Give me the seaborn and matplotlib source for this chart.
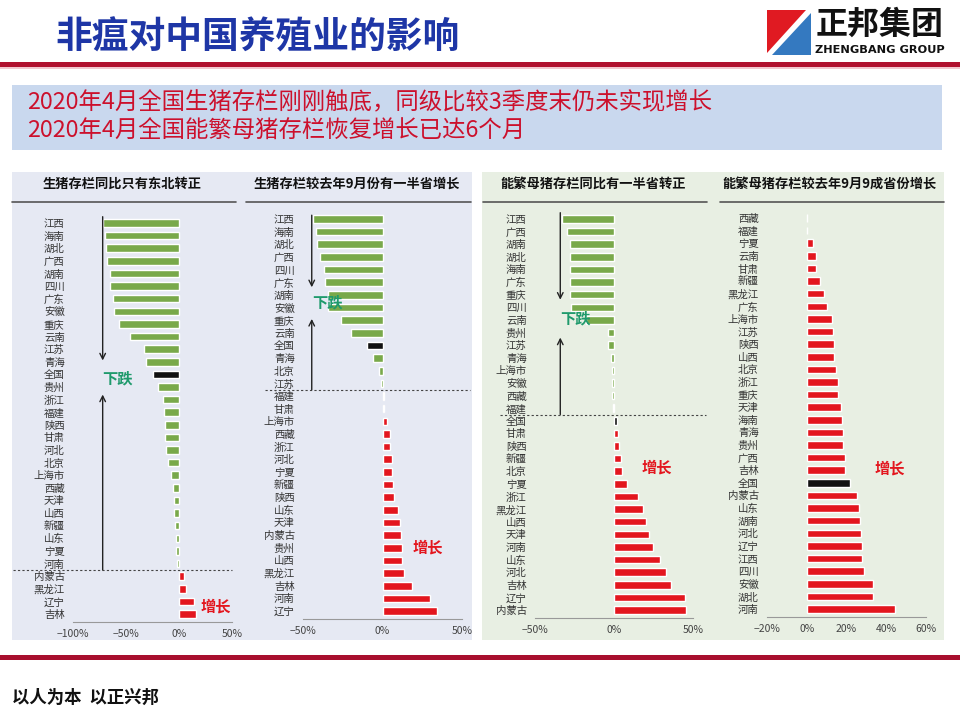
import matplotlib
matplotlib.use("Agg")
import matplotlib.pyplot as plt
import seaborn as sns
from matplotlib.patches import Rectangle, Polygon
from matplotlib.lines import Line2D

sns.set_style("white")
plt.rcParams["font.family"] = ["Noto Sans CJK SC", "DejaVu Sans"]
plt.rcParams["axes.unicode_minus"] = True

# ---- data (% change) ----
p1_title = "生猪存栏同比只有东北转正"
p1_cats = ["江西", "海南", "湖北", "广西", "湖南", "四川", "广东", "安徽", "重庆", "云南",
           "江苏", "青海", "全国", "贵州", "浙江", "福建", "陕西", "甘肃", "河北", "北京",
           "上海市", "西藏", "天津", "山西", "新疆", "山东", "宁夏", "河南", "内蒙古",
           "黑龙江", "辽宁", "吉林"]
p1_vals = [-72, -70, -69, -68, -65, -65, -62, -61, -57, -46,
           -33, -31, -25, -20, -15, -14, -13, -13, -12, -10,
           -8, -6, -5, -5, -4, -3, -3, -1.5, 4.5,
           7, 14, 16]
p1_ticks = [-100, -50, 0, 50]

p2_title = "生猪存栏较去年9月份有一半省增长"
p2_cats = ["江西", "海南", "湖北", "广西", "四川", "广东", "湖南", "安徽", "重庆", "云南",
           "全国", "青海", "北京", "江苏", "福建", "甘肃", "上海市", "西藏", "浙江", "河北",
           "宁夏", "新疆", "陕西", "山东", "天津", "内蒙古", "贵州", "山西", "黑龙江",
           "吉林", "河南", "辽宁"]
p2_vals = [-44, -42, -41, -39, -37, -36, -34, -34, -26, -20,
           -10, -6, -2.5, -1, 1, 1.2, 3, 4.5, 4.6, 6,
           6, 6.3, 7, 9.6, 11, 11.7, 12, 12.4, 13.4,
           18.4, 30, 34]
p2_ticks = [-50, 0, 50]

p3_title = "能繁母猪存栏同比有一半省转正"
p3_cats = ["江西", "广西", "湖南", "湖北", "海南", "广东", "重庆", "四川", "云南", "贵州",
           "江苏", "青海", "上海市", "安徽", "西藏", "福建", "全国", "甘肃", "陕西", "新疆",
           "北京", "宁夏", "浙江", "黑龙江", "山西", "天津", "河南", "山东", "河北",
           "吉林", "辽宁", "内蒙古"]
p3_vals = [-33, -30, -28, -28, -28, -28, -28, -27, -18, -4,
           -3.5, -2, -1.5, -1.3, -1, -0.8, 1.7, 2.3, 3, 4.2,
           5, 8.5, 15, 18.6, 20, 22, 24.5, 29, 33,
           36, 45, 45.5]
p3_ticks = [-50, 0, 50]

p4_title = "能繁母猪存栏较去年9月9成省份增长"
p4_cats = ["西藏", "福建", "宁夏", "云南", "甘肃", "新疆", "黑龙江", "广东", "上海市", "江苏",
           "陕西", "山西", "北京", "浙江", "重庆", "天津", "海南", "青海", "贵州", "广西",
           "吉林", "全国", "内蒙古", "山东", "湖南", "河北", "辽宁", "江西", "四川",
           "安徽", "湖北", "河南"]
p4_vals = [0.2, 0.1, 3.2, 4.7, 4.7, 6.9, 8.9, 10.4, 12.8, 13,
           13.6, 13.8, 14.8, 15.5, 15.8, 17.2, 17.8, 18, 18.2, 19,
           19.2, 21.9, 25.4, 26.3, 26.8, 27.1, 27.6, 27.8, 28.6,
           33.3, 33.5, 44.4]
p4_ticks = [-20, 0, 20, 40, 60]

GREEN = "#79a94a"
RED = "#e3161e"
BLACK = "#111111"
DROP_TXT = "#1f9a6c"

fig = plt.figure(figsize=(9.6, 7.2), dpi=100)
W, H = 960.0, 720.0


def fx(x):
    return x / W


def fy(y):
    return 1 - y / H


def frect(x0, y0, x1, y1, color, z=0):
    fig.add_artist(Rectangle((fx(x0), fy(y1)), fx(x1) - fx(x0), fy(y0) - fy(y1),
                             transform=fig.transFigure, color=color, lw=0, zorder=z))


# ---- header ----
fig.text(fx(55), fy(38), "非瘟对中国养殖业的影响", fontsize=26.5, fontweight="bold",
         color="#1e36a6", va="center", ha="left")
frect(0, 62, 960, 67, "#b0102e")
frect(0, 67, 960, 69, "#f2c8cf")

# logo
fig.add_artist(Polygon([(fx(767), fy(10)), (fx(806), fy(10)), (fx(767), fy(53))],
                       closed=True, transform=fig.transFigure, color="#e01a22", lw=0))
fig.add_artist(Polygon([(fx(811), fy(13)), (fx(811), fy(55)), (fx(772), fy(55))],
                       closed=True, transform=fig.transFigure, color="#3479c0", lw=0))
fig.text(fx(880), fy(25), "正邦集团", fontsize=23, fontweight="bold", color="#111111",
         ha="center", va="center")
fig.text(fx(880), fy(50), "ZHENGBANG GROUP", fontsize=8.2, fontweight="bold",
         color="#111111", ha="center", va="center", family=["DejaVu Sans"])

# summary box
frect(12, 85, 942, 150, "#c9d8ee")
fig.text(fx(27), fy(103), "2020年4月全国生猪存栏刚刚触底，同级比较3季度末仍未实现增长",
         fontsize=16.8, color="#cc102c", va="center", ha="left")
fig.text(fx(27), fy(131), "2020年4月全国能繁母猪存栏恢复增长已达6个月",
         fontsize=16.8, color="#cc102c", va="center", ha="left")

# panel backgrounds
frect(12, 172, 472, 640, "#e6e9f3")
frect(482, 172, 944, 640, "#e8efe3")

# footer
frect(0, 655, 960, 660, "#a80f2e")
fig.text(fx(12), fy(698), "以人为本  以正兴邦", fontsize=12.5, fontweight="bold",
         color="#111111", va="center", ha="left")


def colors_for(cats, vals):
    pal = {}
    for c, v in zip(cats, vals):
        if c == "全国":
            pal[c] = BLACK
        elif v < 0:
            pal[c] = GREEN
        else:
            pal[c] = RED
    return pal


def panel(cats, vals, ticks, title, x_left, x_right, y_first, y_last,
          title_cx, line_x0, line_x1):
    n = len(cats)
    unit = (y_last - y_first) / (n - 1)
    top_idx, bot_idx = -0.6, n - 1 + 0.6
    y_top = y_first + top_idx * unit
    y_bot = y_first + bot_idx * unit
    ax = fig.add_axes([fx(x_left), fy(y_bot), fx(x_right) - fx(x_left), fy(y_top) - fy(y_bot)])
    ax.set_facecolor("none")
    sns.barplot(x=vals, y=cats, hue=cats, palette=colors_for(cats, vals), legend=False,
                orient="h", width=0.6, saturation=1, ax=ax)
    ax.set_xlim(ticks[0], ticks[-1])
    ax.set_ylim(bot_idx, top_idx)
    ax.set_xticks(ticks)
    ax.set_xticklabels([f"{t}%".replace("-", "\u2212") for t in ticks])
    ax.tick_params(axis="x", direction="in", length=3, width=0.8, color="#888888",
                   labelsize=7.5, labelcolor="#444444", pad=5)
    ax.tick_params(axis="y", length=0, labelsize=7.5, labelcolor="#333333", pad=6)
    for s in ["top", "right", "left"]:
        ax.spines[s].set_visible(False)
    ax.spines["bottom"].set_color("#999999")
    ax.spines["bottom"].set_linewidth(0.8)
    ax.set_xlabel("")
    ax.set_ylabel("")
    fig.text(fx(title_cx), fy(184), title, fontsize=9.5, fontweight="bold",
             color="#111111", ha="center", va="center")
    fig.add_artist(Line2D([fx(line_x0), fx(line_x1)], [fy(202), fy(202)],
                          transform=fig.transFigure, color="#555555", lw=1.2))
    return ax


def sep_line(ax, idx, x0, x1):
    ax.axhline(idx, xmin=x0, xmax=x1, color="#444444", lw=0.8, ls=(0, (2, 2)),
               clip_on=False)


def drop_arrows(ax, x, y0, tip_down, y_txt, tip_up, y1):
    arrow = dict(arrowstyle="->", lw=1.0, color="#222222", shrinkA=0, shrinkB=0)
    ax.annotate("", xy=(x, tip_down), xytext=(x, y0), arrowprops=arrow, annotation_clip=False)
    ax.annotate("", xy=(x, tip_up), xytext=(x, y1), arrowprops=arrow, annotation_clip=False)
    ax.text(x, y_txt, "下跌", color=DROP_TXT, fontsize=11, fontweight="bold",
            ha="left", va="center", clip_on=False)


def grow_text(ax, x, y):
    ax.text(x, y, "增长", color=RED, fontsize=11, fontweight="bold",
            ha="center", va="center", clip_on=False)


ax1 = panel(p1_cats, p1_vals, p1_ticks, p1_title, 73, 232, 223, 614, 122, 12, 236)
sep_line(ax1, 27.5, -0.38, 1.0)
drop_arrows(ax1, -72, -0.5, 10.9, 12.3, 13.6, 27.5)
grow_text(ax1, 35, 30.4)

ax2 = panel(p2_cats, p2_vals, p2_ticks, p2_title, 303, 462, 219, 611, 357, 246, 471)
sep_line(ax2, 13.5, -0.24, 1.05)
drop_arrows(ax2, -44.5, -0.3, 5.4, 6.6, 7.9, 13.5)
grow_text(ax2, 28.5, 26)

ax3 = panel(p3_cats, p3_vals, p3_ticks, p3_title, 535, 693, 219, 610, 593, 483, 707)
sep_line(ax3, 15.5, -0.22, 1.08)
drop_arrows(ax3, -34, -0.5, 6.4, 7.9, 9.4, 15.5)
grow_text(ax3, 27, 19.7)

ax4 = panel(p4_cats, p4_vals, p4_ticks, p4_title, 767, 926, 218, 609, 830, 720, 944)
grow_text(ax4, 42, 19.9)

fig.savefig("out.png", dpi=100)
